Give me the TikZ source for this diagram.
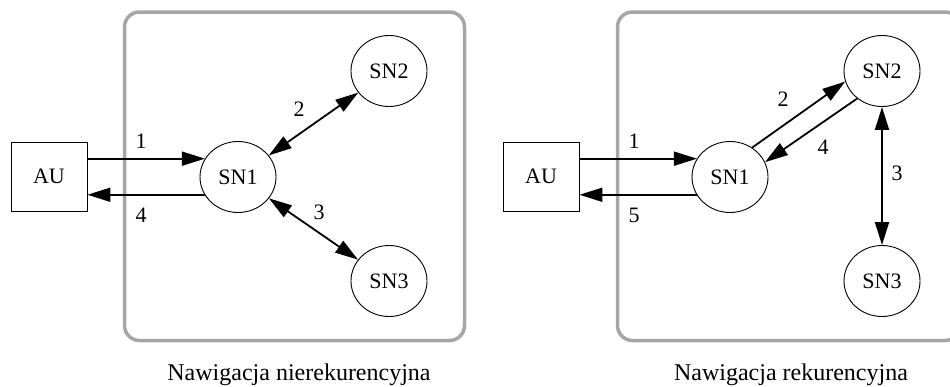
\documentclass[tikz,border=0pt]{standalone}
\usepackage{fontspec}
\setmainfont{Liberation Serif}
\usetikzlibrary{arrows.meta,shapes.geometric}
\definecolor{framegray}{HTML}{A6A6A6}
\tikzset{
  nodefont/.style={font=\fontsize{22}{26}\selectfont},
  frame/.style={draw=framegray, line width=3.5pt, rounded corners=15pt},
  sn/.style={nodefont, draw, ellipse, line width=0.9pt, minimum width=76pt, minimum height=71pt, inner sep=0pt},
  aubox/.style={nodefont, draw, rectangle, line width=0.9pt, minimum width=76pt, minimum height=69pt, inner sep=0pt},
  arr/.style={line width=1.8pt, -{Triangle[length=23pt,width=14pt]}},
  darr/.style={line width=1.8pt, {Triangle[length=23pt,width=14pt]}-{Triangle[length=23pt,width=14pt]}},
  lbl/.style={nodefont, inner sep=0pt},
  caption/.style={font=\fontsize{24}{28}\selectfont, inner sep=0pt}
}
\begin{document}
\begin{tikzpicture}[x=1pt, y=-1pt]
\useasboundingbox (0,0) rectangle (950,386);

% ---- non-recursive navigation ----
\draw[frame] (124.5,12) rectangle (464.5,340.5);
\node[aubox] (au) at (49,176.5) {AU};
\node[sn] (s1) at (238,177) {SN1};
\node[sn] (s2) at (389,71) {SN2};
\node[sn] (s3) at (389,281) {SN3};
\draw[arr] (au.east |- s1.151) -- (s1.151);
\draw[arr] (s1.208) -- (au.east |- s1.208);
\draw[darr] (s1) -- (s2);
\draw[darr] (s1) -- (s3);
\node[lbl] (n1) at (141,141) {1};
\node[lbl] (n4) at (141,215) {4};
\node[lbl] (n2) at (299,109.5) {2};
\node[lbl] (n3) at (319,212) {3};
\node[caption] (c1) at (299,375) {Nawigacja nierekurencyjna};

% ---- recursive navigation ----
\draw[frame] (617.5,12) rectangle (960,340.5);
\node[aubox] (aur) at (541,176.5) {AU};
\node[sn] (r1) at (730,177) {SN1};
\node[sn] (r2) at (882,71) {SN2};
\node[sn] (r3) at (882,281) {SN3};
\draw[arr] (aur.east |- r1.151) -- (r1.151);
\draw[arr] (r1.208) -- (aur.east |- r1.208);
\draw[arr] (r1.53) -- (r2.196);
\draw[arr] (r2.228) -- (r1.23);
\draw[darr] (r2) -- (r3);
\node[lbl] (m1) at (634,141) {1};
\node[lbl] (m5) at (634,215) {5};
\node[lbl] (m2) at (783,99) {2};
\node[lbl] (m4) at (823,147) {4};
\node[lbl] (m3) at (897,173) {3};
\node[caption] (c2) at (791,375) {Nawigacja rekurencyjna};
\end{tikzpicture}
\end{document}
